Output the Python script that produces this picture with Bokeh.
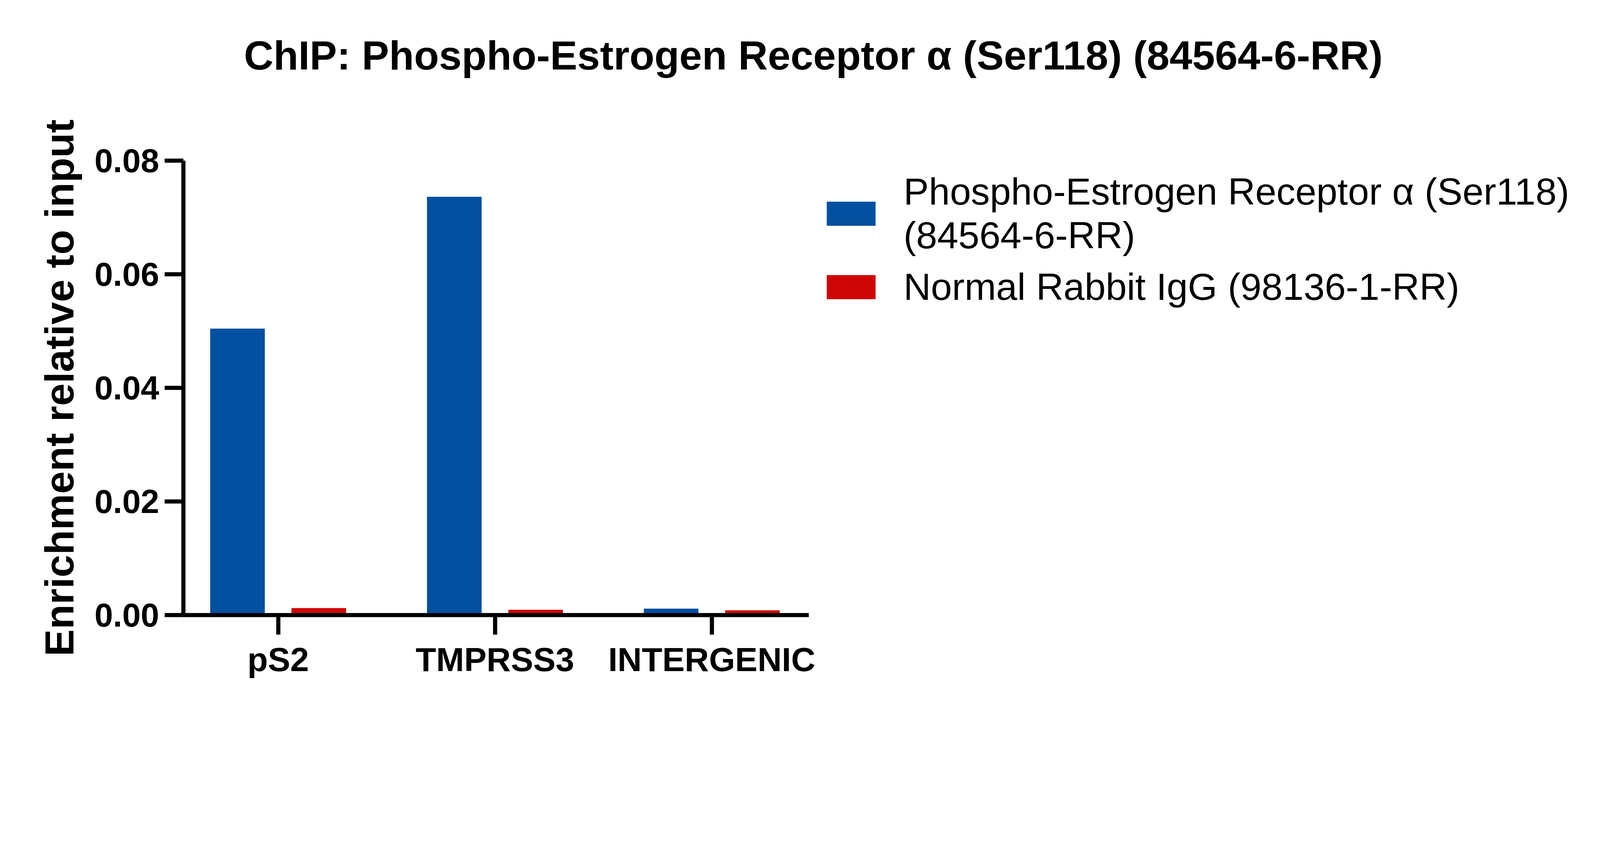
import numpy as np
from bokeh.plotting import figure
from bokeh.models import (ColumnDataSource, Range1d, FixedTicker, Legend, LegendItem, Title)
from bokeh.transform import dodge
from bokeh.embed import file_html
from bokeh.resources import INLINE

# ---- data ----
categories = ["pS2", "TMPRSS3", "INTERGENIC"]
phospho_er = [0.0504, 0.0736, 0.0011]
normal_igg = [0.0012, 0.0009, 0.0008]
y_ticks = [0.0, 0.02, 0.04, 0.06, 0.08]
y_tick_labels = ["0.00", "0.02", "0.04", "0.06", "0.08"]
series_labels = ["Phospho-Estrogen Receptor α (Ser118)\n(84564-6-RR)",
                 "Normal Rabbit IgG (98136-1-RR)"]
title_text = "ChIP: Phospho-Estrogen Receptor α (Ser118) (84564-6-RR)"
y_label = "Enrichment relative to input"

BLUE = "#0450A0"
RED = "#CE0606"
FONT = "Liberation Sans"

xpos = list(range(len(categories)))
src = ColumnDataSource(dict(x=xpos, er=phospho_er, igg=normal_igg))

# the frame extends to the right so that the legend sits inside it;
# the x axis itself is bounded to the category region
X_START, X_AXIS_END, X_END = -0.437, 2.448, 6.058

p = figure(width=4079, height=1792, output_backend="svg", toolbar_location=None,
           x_range=Range1d(X_START, X_END), y_range=Range1d(0, 0.08),
           min_border_left=469, min_border_right=5,
           min_border_top=411, min_border_bottom=217)
p.outline_line_color = None
p.xgrid.visible = False
p.ygrid.visible = False
p.background_fill_color = "white"
p.border_fill_color = "white"

r_blue = p.vbar(x=dodge("x", -0.1875), top="er", width=0.25, source=src,
                fill_color=BLUE, line_color=BLUE, line_width=1)
r_red = p.vbar(x=dodge("x", 0.1875), top="igg", width=0.25, source=src,
               fill_color=RED, line_color=RED, line_width=1)

AX_W = 10.6
# x axis
xa = p.xaxis[0]
xa.bounds = (X_START, X_AXIS_END)
xa.ticker = FixedTicker(ticks=xpos)
xa.major_label_overrides = {i: c for i, c in zip(xpos, categories)}
xa.axis_line_width = AX_W
xa.major_tick_line_width = AX_W
xa.major_tick_in = 0
xa.major_tick_out = 50
xa.minor_tick_line_color = None
xa.major_label_standoff = 15
xa.major_label_text_font = FONT
xa.major_label_text_font_style = "bold"
xa.major_label_text_font_size = "86px"
xa.major_label_text_color = "black"

# y axis
ya = p.yaxis[0]
ya.ticker = FixedTicker(ticks=y_ticks)
ya.major_label_overrides = {t: l for t, l in zip(y_ticks, y_tick_labels)}
ya.axis_line_width = AX_W
ya.major_tick_line_width = AX_W
ya.major_tick_in = 0
ya.major_tick_out = 48
ya.minor_tick_line_color = None
ya.major_label_standoff = 14
ya.major_label_text_font = FONT
ya.major_label_text_font_style = "bold"
ya.major_label_text_font_size = "85px"
ya.major_label_text_color = "black"
ya.axis_label = y_label
ya.axis_label_text_font = FONT
ya.axis_label_text_font_style = "bold"
ya.axis_label_text_font_size = "104px"
ya.axis_label_text_color = "black"
ya.axis_label_standoff = 29

# title: a thin spacer next to the frame, then the title above it
spacer = Title(text=" ", text_font_size="8px", standoff=196)
p.add_layout(spacer, "above")
title = Title(text=title_text, align="left", offset=155,
              text_font=FONT, text_font_style="bold", text_font_size="104.5px",
              text_color="black")
p.add_layout(title, "above")

# legend (inside the extended frame, screen offsets from the frame's bottom-left)
legend = Legend(items=[LegendItem(label=series_labels[0], renderers=[r_blue]),
                       LegendItem(label=series_labels[1], renderers=[r_red])],
                location=(1632, 784), glyph_width=155, glyph_height=76,
                label_standoff=57, label_text_font=FONT, label_text_font_size="97px",
                label_text_line_height=1.16,
                label_text_color="black", border_line_color=None,
                background_fill_alpha=0, padding=0, margin=0, spacing=20)
p.add_layout(legend)

open("out.html", "w").write(file_html(p, INLINE))
